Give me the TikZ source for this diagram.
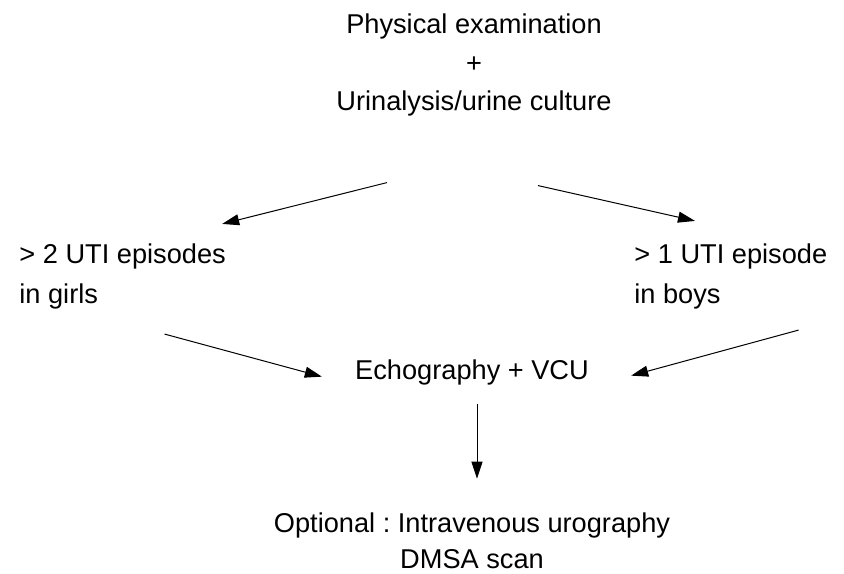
\documentclass[tikz,border=0pt]{standalone}
\usepackage{fontspec}
\setmainfont{Liberation Sans}
\frenchspacing
\usetikzlibrary{positioning, arrows.meta}

\begin{document}
\begin{tikzpicture}[x=0.5pt, y=-0.5pt, inner sep=0pt, >={Triangle[length=8.5pt,width=5.5pt]},
    every node/.style={font=\fontsize{13.6}{19.25}\selectfont}]
    \useasboundingbox (0,0) rectangle (844,573);
    \node[align=center](exam) at (474,65){Physical examination\\+\\Urinalysis/urine culture};
    \node[align=left, anchor=west, font=\fontsize{13.6}{20}\selectfont](girls) at (19,276){> 2 UTI episodes\\in girls};
    \node[align=left, anchor=west, font=\fontsize{13.6}{20}\selectfont](boys) at (634,276){> 1 UTI episode\\in boys};
    \node[below=121.5pt of exam, xshift=-1pt](echo){Echography + VCU};
    \node[align=center, below=63.5pt of echo, font=\fontsize{13.6}{18}\selectfont](optional){Optional : Intravenous urography\\DMSA scan};
    % Arrows
    \draw[->, line width=0.5pt] ([shift={(-87,66)}]exam.south) -- ([shift={(-4,-19)}]girls.north east);
    \draw[->, line width=0.5pt] ([shift={(64,69)}]exam.south) -- ([shift={(61,-22)}]boys.north west);
    \draw[->, line width=0.5pt] ([shift={(42,25)}]girls.south) -- ([shift={(-33,4)}]echo.west);
    \draw[->, line width=0.5pt] ([shift={(-29,21)}]boys.south east) -- ([shift={(42,3)}]echo.east);
    \draw[->, line width=0.5pt] ([shift={(5,18)}]echo.south) -- ([shift={(5,-34)}]optional.north);
\end{tikzpicture}
\end{document}
